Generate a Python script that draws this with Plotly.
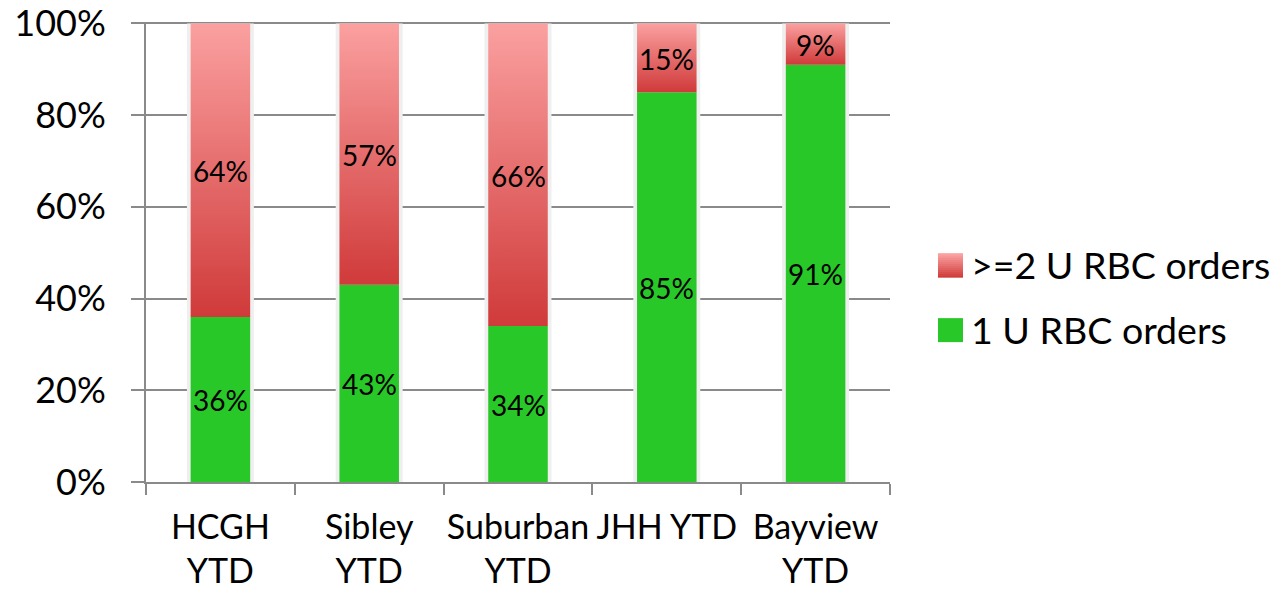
import plotly.graph_objects as go

# ---- data ----
categories = ["HCGH<br>YTD", "Sibley<br>YTD", "Suburban<br>YTD", "JHH YTD", "Bayview<br>YTD"]
one_unit = [36, 43, 34, 85, 91]          # 1 U RBC orders (%)
two_plus = [64, 57, 66, 15, 9]           # >=2 U RBC orders (%)
series_names = [">=2 U RBC orders", "1 U RBC orders"]
y_tick_step = 20

# ---- styles ----
FONT = "Lato"
GREEN = "#28C828"
RED_DARK = "#D03A3A"
RED_LIGHT = "#FBA0A0"
GRAY = "#8A8A8A"
BAR_W = 0.4
Y_MAX = 100.3        # tiny headroom so the 100% gridline is drawn
PLOT_TOP = 23
PLOT_BOTTOM = 482
PLOT_LEFT = 146
PLOT_RIGHT = 890
px_per_unit = (PLOT_BOTTOM - PLOT_TOP) / 100.0
top_margin = PLOT_TOP - (Y_MAX - 100) * px_per_unit

xpos = list(range(len(categories)))
totals = [a + b for a, b in zip(one_unit, two_plus)]

fig = go.Figure()

# soft shadow behind bars
fig.add_bar(x=xpos, y=totals, width=BAR_W + 0.05, marker=dict(color="#EFEFEF", line_width=0),
            hoverinfo="skip", showlegend=False)

# 1 U bars
fig.add_bar(x=xpos, y=one_unit, width=BAR_W, marker=dict(color=GREEN, line_width=0),
            name=series_names[1], showlegend=False)

# >=2 U segments with vertical gradient, stacked on top of the 1 U bars
for i, (g, r) in enumerate(zip(one_unit, two_plus)):
    x0, x1 = xpos[i] - BAR_W / 2, xpos[i] + BAR_W / 2
    fig.add_scatter(x=[x0, x1, x1, x0, x0], y=[g, g, g + r, g + r, g],
                    mode="lines", fill="toself", line=dict(width=0, color="rgba(0,0,0,0)"),
                    fillgradient=dict(type="vertical", colorscale=[[0, RED_DARK], [1, RED_LIGHT]]),
                    name=series_names[0], hoverinfo="skip", showlegend=False)

# value labels (annotations, centred in each segment)
annotations = []
for i, (g, r) in enumerate(zip(one_unit, two_plus)):
    for yv, val in ((g / 2, g), (g + r / 2, r)):
        annotations.append(dict(x=xpos[i], y=yv, xref="x", yref="y", text=f"{val}%",
                                showarrow=False, yshift=-1,
                                font=dict(family=FONT, size=28, color="black")))

# ---- custom legend (large squares) ----
def px_x(p):
    return (p - PLOT_LEFT) / (PLOT_RIGHT - PLOT_LEFT)

def px_y(p):
    return (PLOT_BOTTOM - p) / (PLOT_BOTTOM - top_margin)

shapes = []
n_strips = 12
c0 = tuple(int(RED_LIGHT[j:j + 2], 16) for j in (1, 3, 5))
c1 = tuple(int(RED_DARK[j:j + 2], 16) for j in (1, 3, 5))
for k in range(n_strips):
    t = k / (n_strips - 1)
    col = "rgb(%d,%d,%d)" % tuple(round(c0[m] + (c1[m] - c0[m]) * t) for m in range(3))
    top = 253 + 24 * k / n_strips
    bot = 253 + 24 * (k + 1) / n_strips
    shapes.append(dict(type="rect", xref="paper", yref="paper",
                       x0=px_x(938), x1=px_x(963), y0=px_y(bot + 0.5), y1=px_y(top),
                       fillcolor=col, line=dict(width=0), layer="above"))
shapes.append(dict(type="rect", xref="paper", yref="paper",
                   x0=px_x(938), x1=px_x(963), y0=px_y(342), y1=px_y(318),
                   fillcolor=GREEN, line=dict(width=0), layer="above"))

annotations += [
    dict(xref="paper", yref="paper", x=px_x(969), y=px_y(264), xanchor="left", yanchor="middle",
         text=series_names[0], showarrow=False, font=dict(family=FONT, size=37.5, color="black")),
    dict(xref="paper", yref="paper", x=px_x(969), y=px_y(329), xanchor="left", yanchor="middle",
         text=series_names[1], showarrow=False, font=dict(family=FONT, size=37.5, color="black")),
]

fig.update_layout(
    width=1282, height=590,
    margin=dict(l=PLOT_LEFT, r=1282 - PLOT_RIGHT, t=top_margin, b=590 - PLOT_BOTTOM, autoexpand=False),
    paper_bgcolor="white", plot_bgcolor="white",
    barmode="overlay",
    showlegend=False,
    shapes=shapes,
    annotations=annotations,
    xaxis=dict(range=[-0.5, len(categories) - 0.5], tickmode="array", tickvals=xpos, ticktext=categories,
               automargin=False, ticklabeloverflow="allow",
               showgrid=False, zeroline=False, showline=True, linecolor=GRAY, linewidth=2,
               ticks="", tickfont=dict(family=FONT, size=34, color="black"),
               ticklabelstandoff=14,
               minor=dict(tickmode="array", tickvals=[p - 0.5 for p in xpos] + [xpos[-1] + 0.5],
                          ticks="outside", ticklen=11, tickwidth=2, tickcolor=GRAY, showgrid=False)),
    yaxis=dict(range=[0, Y_MAX], tickmode="linear", tick0=0, dtick=y_tick_step, ticksuffix="%",
               showticksuffix="all",
               automargin=False, ticklabeloverflow="allow",
               showgrid=True, gridcolor=GRAY, gridwidth=2, zeroline=False,
               showline=True, linecolor=GRAY, linewidth=2,
               ticks="outside", ticklen=13, tickwidth=2, tickcolor=GRAY,
               tickfont=dict(family=FONT, size=36, color="black"), ticklabelstandoff=18),
)

fig.write_html("out.html")
